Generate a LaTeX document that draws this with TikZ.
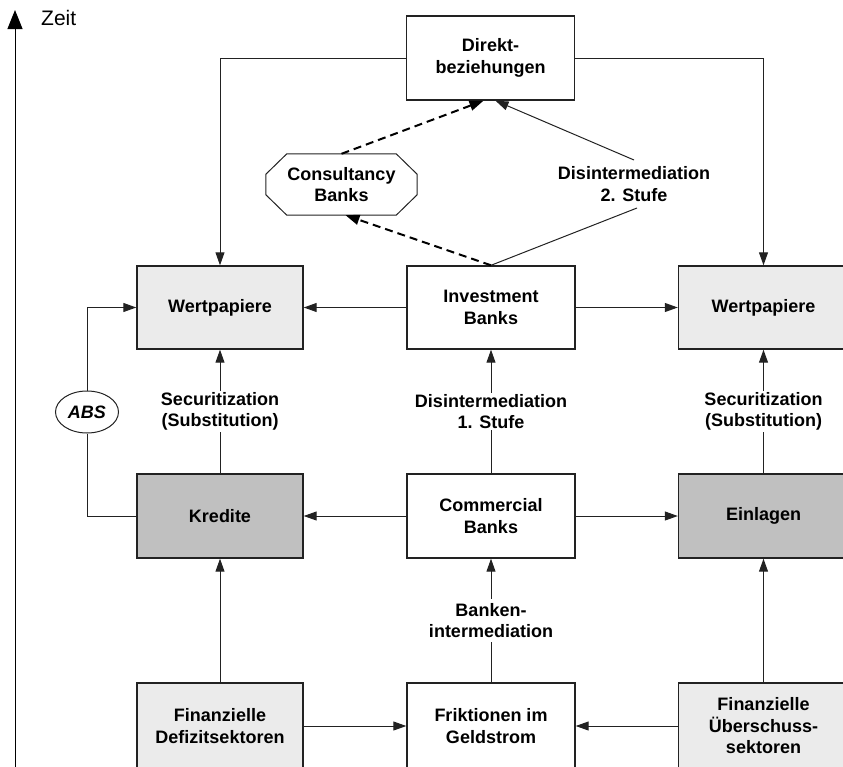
\documentclass[tikz,border=0pt]{standalone}
\usepackage{fontspec}
\setmainfont{Liberation Sans}
\usetikzlibrary{arrows.meta,calc,shapes.geometric}
\definecolor{lightg}{HTML}{EBEBEB}
\definecolor{darkg}{HTML}{C0C0C0}
\definecolor{ink}{HTML}{222222}
\begin{document}
\begin{tikzpicture}[x=1pt,y=-1pt,
  box/.style={draw=ink, line width=1.4pt, minimum width=166pt, minimum height=83pt,
    align=center, font=\bfseries\fontsize{18}{21.5}\selectfont, inner sep=2pt},
  light/.style={box, fill=lightg},
  dark/.style={box, fill=darkg},
  plain/.style={box, fill=white},
  lbl/.style={align=center, font=\bfseries\fontsize{18}{21.5}\selectfont, fill=white, inner sep=1.5pt},
  conn/.style={draw=ink, line width=1pt, -{Triangle[length=13pt,width=9pt]}},
  line/.style={draw=ink, line width=1pt},
  dashconn/.style={draw=black, line width=2pt, dash pattern=on 8pt off 5pt, -{Triangle[length=14pt,width=10pt]}},
]
\useasboundingbox (0,0) rectangle (843,766);
\clip (0,0) rectangle (843,766);

% time axis
\coordinate (t0) at (15,770);
\coordinate (t1) at (15,10);
\draw[line width=1pt, -{Triangle[length=19pt,width=15pt]}] (t0) -- (t1);
\node[anchor=west, font=\fontsize{21}{24}\selectfont, inner sep=0pt] (zeit) at (41,18) {Zeit};

% boxes
\node[plain, minimum width=168pt, minimum height=84pt] (dir) at (490.5,58) {Direkt-\\beziehungen};
\node[light] (wl) at (220,307.5) {Wertpapiere};
\node[plain, minimum width=168pt] (inv) at (491,307.5) {Investment\\Banks};
\node[light, minimum width=170pt] (wr) at (763.5,307.5) {Wertpapiere};
\node[dark, minimum height=84pt] (kr) at (220,516) {Kredite};
\node[plain, minimum width=168pt, minimum height=84pt] (cb) at (491,516) {Commercial\\Banks};
\node[dark, minimum width=170pt, minimum height=84pt] (ein) at (763.5,516) {Einlagen};
\node[light, minimum height=86pt] (def) at (220,726) {Finanzielle\\Defizitsektoren};
\node[plain, minimum width=168pt, minimum height=86pt] (fr) at (491,726) {Friktionen im\\Geldstrom};
\node[light, minimum width=170pt, minimum height=86pt] (ub) at (763.5,726) {Finanzielle\\Überschuss-\\sektoren};

% consultancy octagon
\node[align=center, font=\bfseries\fontsize{18}{21.5}\selectfont, minimum width=151pt, minimum height=61pt, inner sep=0pt] (cons) at (341.5,184.5) {Consultancy\\Banks};
\draw[draw=ink, line width=1pt]
  ($(cons.north west)+(21,0)$) -- ($(cons.north east)+(-21,0)$) -- ($(cons.north east)+(0,20.5)$)
  -- ($(cons.south east)+(0,-20.5)$) -- ($(cons.south east)+(-21,0)$) -- ($(cons.south west)+(21,0)$)
  -- ($(cons.south west)+(0,-20.5)$) -- ($(cons.north west)+(0,20.5)$) -- cycle;

% ABS ellipse
\node[ellipse, draw=ink, line width=1pt, fill=white, minimum width=63pt, minimum height=42pt, inner sep=0pt,
  font=\bfseries\itshape\fontsize{18}{21.5}\selectfont] (abs) at (87,412) {ABS};

% top connectors
\draw[conn] (dir.west) -| (wl.north);
\draw[conn] (dir.east) -| (wr.north);

% dashed
\draw[dashconn] (cons.north) -- ([xshift=-7pt]dir.south);
\draw[dashconn] (inv.north) -- ([xshift=4pt]cons.south);

% Disintermediation 2. Stufe
\node[align=center, font=\bfseries\fontsize{18}{21.5}\selectfont, inner sep=0pt] (d2) at (634,184) {Disintermediation\\2. Stufe};
\coordinate (d2a) at (637,208);
\coordinate (d2b) at (634,160);
\draw[line] (inv.north) -- (d2a);
\draw[conn] (d2b) -- ([xshift=5pt]dir.south);

% horizontal
\draw[conn] (inv.west) -- (wl.east);
\draw[conn] (inv.east) -- (wr.west);
\draw[conn] (cb.west) -- (kr.east);
\draw[conn] (cb.east) -- (ein.west);
\draw[conn] (def.east) -- (fr.west);
\draw[conn] (ub.west) -- (fr.east);

% vertical
\draw[conn] (kr.north) -- node[lbl] {Securitization\\(Substitution)} (wl.south);
\draw[conn] (cb.north) -- node[lbl] {Disintermediation\\1. Stufe} (inv.south);
\draw[conn] (ein.north) -- node[lbl] {Securitization\\(Substitution)} (wr.south);
\draw[conn] (def.north) -- (kr.south);
\draw[conn] (fr.north) -- node[lbl, inner sep=4pt] {Banken-\\intermediation} (cb.south);
\draw[conn] (ub.north) -- (ein.south);

% ABS connectors
\draw[line] (kr.west) -| (abs.south);
\draw[conn] (abs.north) |- (wl.west);
\end{tikzpicture}
\end{document}
